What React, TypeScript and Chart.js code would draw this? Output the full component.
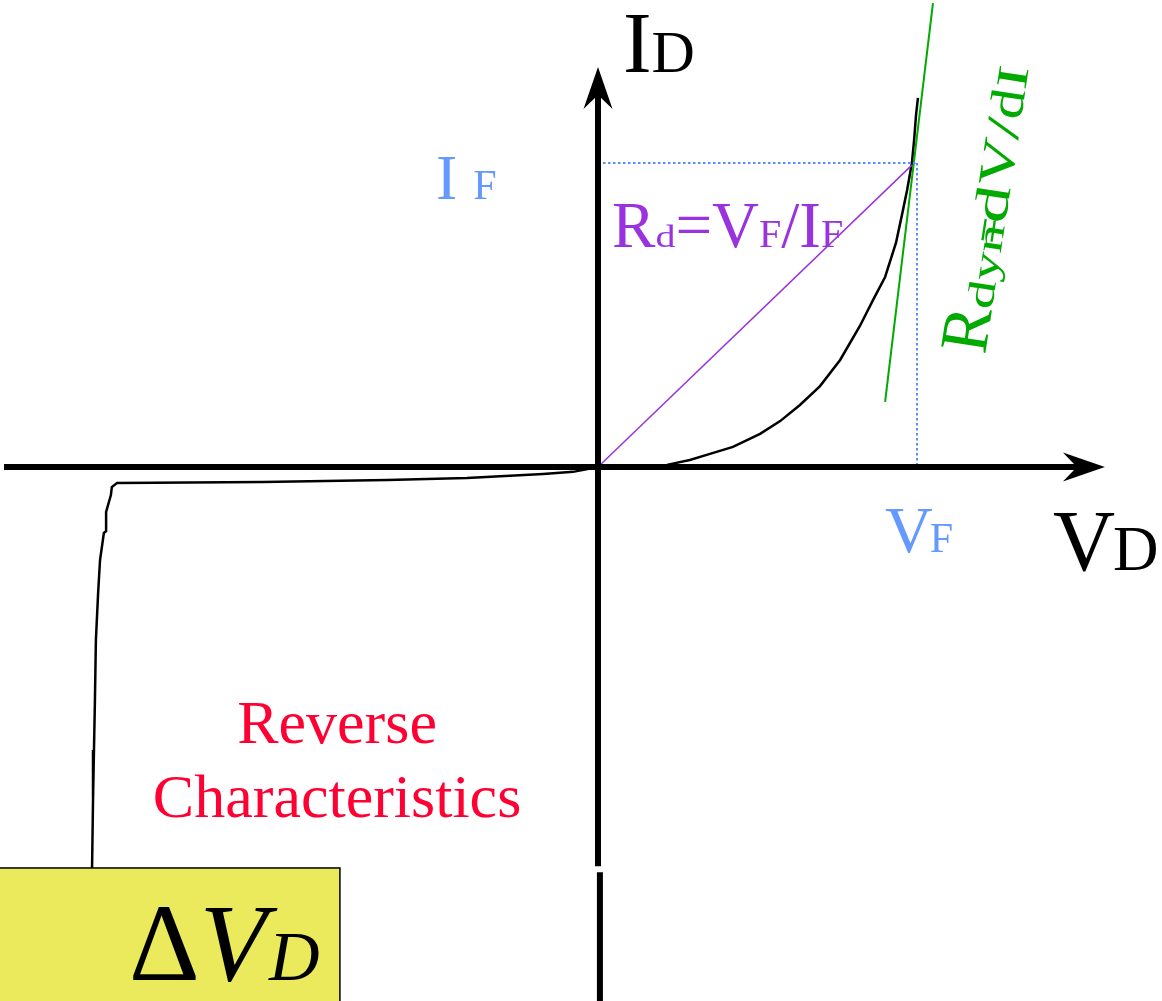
import React, { useEffect, useRef } from "react";
import { Chart, registerables } from "chart.js";

Chart.register(...registerables);

// Units: V normalised so that V_F = 1, I normalised so that I_F = 1
const V_RANGE = [-1.8746, 1.768];
const I_RANGE = [-1.7566, 1.5362];

// forward characteristic
const forwardV = [0, 0.132, 0.216, 0.288, 0.351, 0.423, 0.508, 0.571, 0.633, 0.696, 0.759, 0.821, 0.862, 0.9, 0.934, 0.956, 0.969, 0.984, 0.991, 0.997, 1.003];
const forwardI = [0, 0, 0.007, 0.023, 0.043, 0.066, 0.109, 0.151, 0.204, 0.266, 0.352, 0.464, 0.549, 0.625, 0.737, 0.845, 0.911, 1.0, 1.076, 1.158, 1.214];

// reverse characteristic (breakdown)
const reverseV = [0, -0.078, -0.172, -0.411, -0.661, -1.05, -1.508, -1.524, -1.527, -1.542, -1.542, -1.549, -1.561, -1.567, -1.574, -1.577, -1.58, -1.583, -1.586];
const reverseI = [0, -0.016, -0.023, -0.036, -0.043, -0.049, -0.053, -0.066, -0.092, -0.148, -0.211, -0.217, -0.306, -0.414, -0.569, -0.766, -0.931, -1.095, -1.319];

// operating point and lines
const VF = 1;
const IF = 1;
const chordV = [0, 0.984];
const chordI = [0, 0.993];
const tangentV = [1.05, 0.9];
const tangentI = [1.526, 0.214];

// axes
const xAxisV = [-1.862, 1.511];
const yAxisUpperI = [1.25, -1.313];
const yAxisLowerI = [-1.333, -1.8];
const xArrowTipV = 1.589;
const yArrowTipI = 1.316;

// ΔV_D box
const boxRightV = -0.809;
const boxTopI = -1.319;

const SERIF = '"Liberation Serif", "DejaVu Serif", serif';

type Run = { t: string; size: number; sx?: number; dx?: number; dy?: number; italic?: boolean };

const labels: { v: number; i: number; color: string; angle?: number; align?: string; runs: Run[] }[] = [
  { v: 0.078, i: 1.299, color: "#000000", runs: [{ t: "I", size: 86 }, { t: "D", size: 60 }] },
  { v: -0.508, i: 0.882, color: "#6699ff", runs: [{ t: "I", size: 64 }, { t: " ", size: 64 }, { t: "F", size: 42 }] },
  {
    v: 0.044, i: 0.724, color: "#9933dd",
    runs: [
      { t: "R", size: 65 }, { t: "d", size: 32, sx: 1.25 }, { t: "=", size: 65 }, { t: "V", size: 65 },
      { t: "F", size: 40 }, { t: "/", size: 65 }, { t: "I", size: 65 }, { t: "F", size: 40 },
    ],
  },
  { v: 0.9, i: -0.28, color: "#6699ff", runs: [{ t: "V", size: 66 }, { t: "F", size: 42, dx: -3 }] },
  { v: 1.426, i: -0.339, color: "#000000", runs: [{ t: "V", size: 86 }, { t: "D", size: 63, dx: -2 }] },
  {
    v: 1.213, i: 0.368, color: "#00aa00", angle: -81.3,
    runs: [
      { t: "R", size: 68 }, { t: "dyn", size: 38, sx: 1.5 }, { t: "=", size: 46, dx: -20 },
      { t: "d", size: 48, sx: 1.55, dx: -5 }, { t: "V", size: 49, sx: 1.35 }, { t: "/", size: 49, sx: 1.5 },
      { t: "d", size: 48, sx: 1.25 }, { t: "I", size: 44, sx: 1.6 },
    ],
  },
  { v: -0.818, i: -0.908, color: "#ff0033", align: "center", runs: [{ t: "Reverse", size: 62 }] },
  { v: -0.818, i: -1.151, color: "#ff0033", align: "center", runs: [{ t: "Characteristics", size: 62 }] },
  {
    v: -1.47, i: -1.688, color: "#000000",
    runs: [{ t: "Δ", size: 110 }, { t: "V", size: 110, italic: true }, { t: "D", size: 70, italic: true, dx: 2 }],
  },
];

function zip(a: number[], b: number[]) {
  return a.map((x, k) => ({ x, y: b[k] }));
}

function drawRuns(ctx: CanvasRenderingContext2D, x: number, y: number, lab: any) {
  ctx.save();
  ctx.translate(x, y);
  if (lab.angle) ctx.rotate((lab.angle * Math.PI) / 180);
  ctx.fillStyle = lab.color;
  ctx.textBaseline = "alphabetic";
  ctx.textAlign = "left";
  const widths: number[] = [];
  let total = 0;
  for (const r of lab.runs as Run[]) {
    ctx.font = `${r.italic ? "italic " : ""}${r.size}px ${SERIF}`;
    const w = ctx.measureText(r.t).width * (r.sx || 1);
    widths.push(w);
    total += w + (r.dx || 0);
  }
  let pos = lab.align === "center" ? -total / 2 : 0;
  (lab.runs as Run[]).forEach((r, k) => {
    ctx.font = `${r.italic ? "italic " : ""}${r.size}px ${SERIF}`;
    pos += r.dx || 0;
    ctx.save();
    ctx.translate(pos, r.dy || 0);
    ctx.scale(r.sx || 1, 1);
    ctx.fillText(r.t, 0, 0);
    ctx.restore();
    pos += widths[k];
  });
  ctx.restore();
}

function arrowHead(ctx: CanvasRenderingContext2D, tx: number, ty: number, dx: number, dy: number) {
  const px = -dy, py = dx;
  ctx.save();
  ctx.fillStyle = "#000";
  ctx.beginPath();
  ctx.moveTo(tx, ty);
  ctx.lineTo(tx - dx * 42 + px * 14.5, ty - dy * 42 + py * 14.5);
  ctx.lineTo(tx - dx * 28, ty - dy * 28);
  ctx.lineTo(tx - dx * 42 - px * 14.5, ty - dy * 42 - py * 14.5);
  ctx.closePath();
  ctx.fill();
  ctx.restore();
}

const diagramPlugin = {
  id: "diagram",
  afterDatasetsDraw(chart: any) {
    const ctx = chart.ctx as CanvasRenderingContext2D;
    const xs = chart.scales.x, ys = chart.scales.y;
    arrowHead(ctx, xs.getPixelForValue(xArrowTipV), ys.getPixelForValue(0), 1, 0);
    arrowHead(ctx, xs.getPixelForValue(0), ys.getPixelForValue(yArrowTipI), 0, -1);
    const bx0 = xs.getPixelForValue(V_RANGE[0]) - 2;
    const bx1 = xs.getPixelForValue(boxRightV);
    const by0 = ys.getPixelForValue(boxTopI);
    const by1 = ys.getPixelForValue(I_RANGE[0]) + 2;
    ctx.save();
    ctx.fillStyle = "#eaea5c";
    ctx.strokeStyle = "#000";
    ctx.lineWidth = 1.5;
    ctx.fillRect(bx0, by0, bx1 - bx0, by1 - by0);
    ctx.strokeRect(bx0, by0, bx1 - bx0, by1 - by0);
    ctx.restore();
    for (const lab of labels) {
      drawRuns(ctx, xs.getPixelForValue(lab.v), ys.getPixelForValue(lab.i), lab);
    }
  },
};

export default function App() {
  const ref = useRef<HTMLCanvasElement | null>(null);
  useEffect(() => {
    if (!ref.current) return;
    const line = (data: any[], color: string, width: number, dash: number[] = []) => ({
      data,
      showLine: true,
      borderColor: color,
      backgroundColor: color,
      borderWidth: width,
      borderDash: dash,
      pointRadius: 0,
      tension: 0,
      fill: false,
      borderCapStyle: "butt",
    });
    const chart = new Chart(ref.current, {
      type: "scatter",
      data: {
        datasets: [
          line(zip(xAxisV, [0, 0]), "#000", 6),
          line(zip([0, 0], yAxisUpperI), "#000", 6),
          line(zip([0.006, 0.006], yAxisLowerI), "#000", 6),
          line([{ x: 0, y: IF }, { x: VF, y: IF }], "#5a8cff", 2, [2.5, 2.5]),
          line([{ x: VF, y: IF }, { x: VF, y: 0 }], "#5a8cff", 2, [2.5, 2.5]),
          line(zip(chordV, chordI), "#9933dd", 1.5),
          line(zip(tangentV, tangentI), "#00aa00", 2),
          line(zip(forwardV, forwardI), "#000", 2.5),
          line(zip(reverseV, reverseI), "#000", 2.5),
        ] as any,
      },
      options: {
        responsive: false,
        animation: false,
        devicePixelRatio: 1,
        layout: { padding: 0 },
        scales: {
          x: { type: "linear", display: false, min: V_RANGE[0], max: V_RANGE[1] },
          y: { type: "linear", display: false, min: I_RANGE[0], max: I_RANGE[1] },
        },
        plugins: { legend: { display: false }, tooltip: { enabled: false } },
      },
      plugins: [diagramPlugin],
    });
    return () => chart.destroy();
  }, []);
  return (
    <div style={{ position: "fixed", left: 0, top: 0, width: 1162, height: 1001, background: "#fff" }}>
      <canvas ref={ref} width={1162} height={1001} style={{ display: "block" }} />
    </div>
  );
}
